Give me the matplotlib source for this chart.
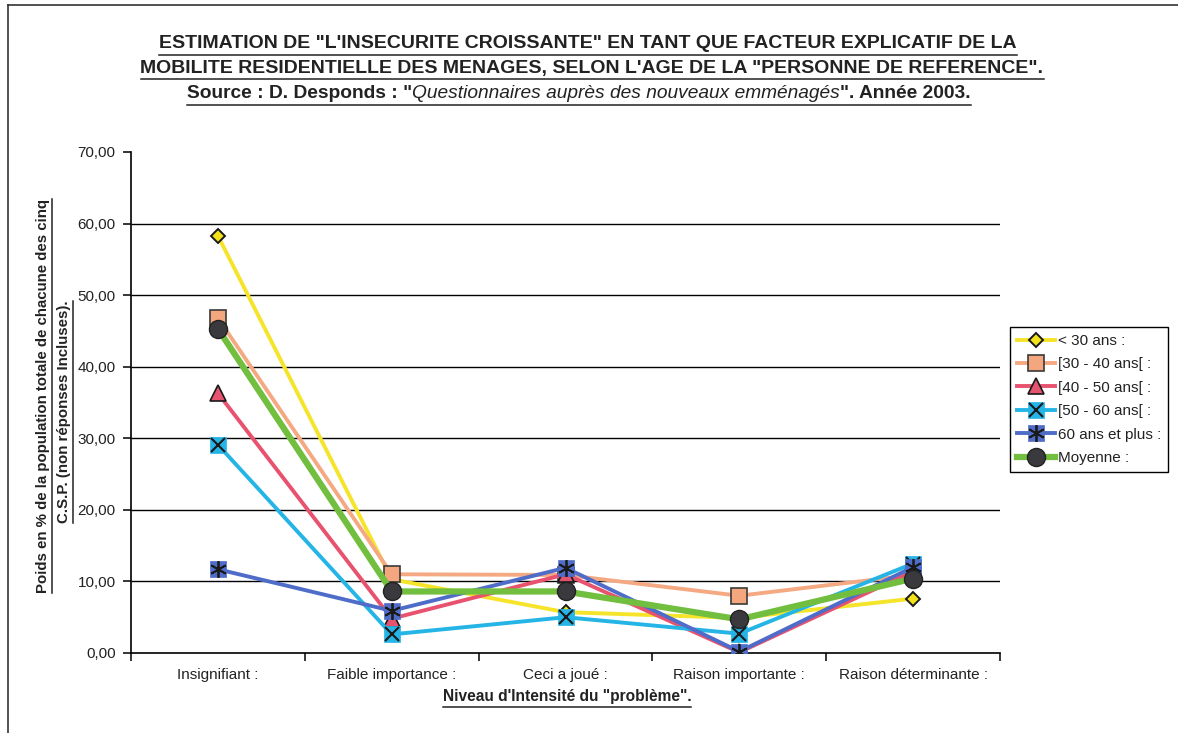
import matplotlib
matplotlib.use('Agg')
import matplotlib.pyplot as plt
from matplotlib.lines import Line2D

categories = ["Insignifiant :", "Faible importance :", "Ceci a joué :",
              "Raison importante :", "Raison déterminante :"]
series_names = ["< 30 ans :", "[30 - 40 ans[ :", "[40 - 50 ans[ :",
                "[50 - 60 ans[ :", "60 ans et plus :", "Moyenne :"]
v_lt30 = [58.3, 10.3, 5.7, 4.9, 7.6]
v_30_40 = [46.8, 11.0, 10.9, 8.0, 10.9]
v_40_50 = [36.3, 4.8, 11.0, 0.1, 11.4]
v_50_60 = [29.1, 2.6, 5.0, 2.7, 12.5]
v_60p = [11.7, 5.9, 11.9, 0.2, 12.0]
v_moy = [45.3, 8.6, 8.6, 4.7, 10.4]
yticks = [0, 10, 20, 30, 40, 50, 60, 70]
ytick_labels = ["0,00", "10,00", "20,00", "30,00", "40,00", "50,00", "60,00", "70,00"]

W, H = 1178, 733
fig = plt.figure(figsize=(W / 100, H / 100), dpi=100)
fig.patch.set_facecolor('white')
FONT = 'Liberation Sans'
plt.rcParams['font.family'] = [FONT, 'DejaVu Sans']
TXT = '#222222'

ax = fig.add_axes([131 / W, 1 - 653 / H, 869 / W, 501 / H])
x = list(range(len(categories)))

styles = [
    dict(color='#F5E42A', lw=2.8, marker='D', ms=7, mfc='#F2E21B', mec='#1a1a1a', mew=1.4),
    dict(color='#F5A983', lw=2.8, marker='s', ms=11, mfc='#F4A77E', mec='#3a3a3a', mew=1.2),
    dict(color='#E8526F', lw=2.8, marker='^', ms=11, mfc='#E5536F', mec='#1a1a1a', mew=1.2),
    dict(color='#25B4E6', lw=2.8, marker='s', ms=11, mfc='#25B4E6', mec='#25B4E6', mew=0.5),
    dict(color='#4E6CC8', lw=2.8, marker='s', ms=11, mfc='#4E6CC8', mec='#4E6CC8', mew=0.5),
    dict(color='#72BE3E', lw=4.5, marker='o', ms=13, mfc='#3A3A3E', mec='#222222', mew=1.0),
]
overlays = [None, None, None,
            dict(marker='x', ms=10, mec='#1a1a1a', mew=1.5),
            dict(marker=(6, 2, 0), ms=12, mec='#1a1a1a', mew=1.3),
            None]
data = [v_lt30, v_30_40, v_40_50, v_50_60, v_60p, v_moy]

handles = []
for i, (vals, st, ov) in enumerate(zip(data, styles, overlays)):
    ln, = ax.plot(x, vals, linestyle='-', zorder=3 + i, **st)
    if ov is not None:
        o, = ax.plot(x, vals, linestyle='none', zorder=3 + i, **ov)
        handles.append((ln, o))
    else:
        handles.append(ln)

ax.set_xlim(-0.5, len(categories) - 0.5)
ax.set_ylim(0, 70)
ax.hlines(yticks[1:-1], -0.5, len(categories) - 0.5, colors='black', lw=1.0, zorder=1)

for s in ['top', 'right']:
    ax.spines[s].set_visible(False)
for s in ['left', 'bottom']:
    ax.spines[s].set_color('black')
    ax.spines[s].set_linewidth(1.2)

ax.set_yticks(yticks)
ax.set_yticklabels(ytick_labels, fontsize=11, color=TXT)
ax.tick_params(axis='y', direction='out', length=6, width=1.1, pad=5)
ax.set_xticks(x)
ax.set_xticklabels(categories, fontsize=11, color=TXT)
ax.set_xticks([i - 0.5 for i in range(len(categories) + 1)], minor=True)
ax.tick_params(axis='x', which='major', length=0, pad=11)
ax.tick_params(axis='x', which='minor', direction='out', length=6, width=1.1)

leg = ax.legend(handles, series_names, loc='upper left',
                bbox_to_anchor=(1010 / W, 1 - 327 / H), bbox_transform=fig.transFigure,
                fancybox=False, framealpha=1, edgecolor='black', fontsize=11,
                handlelength=2.5, handletextpad=0.2, labelspacing=0.62,
                borderpad=0.45, borderaxespad=0)
leg.get_frame().set_linewidth(1.0)
for t in leg.get_texts():
    t.set_color(TXT)

# titles
t1 = fig.text(588 / W, 1 - 44 / H, "ESTIMATION DE \"L'INSECURITE CROISSANTE\" EN TANT QUE FACTEUR EXPLICATIF DE LA",
              ha='center', va='center', fontsize=14, fontweight='bold', color=TXT)
t2 = fig.text(592 / W, 1 - 68 / H, "MOBILITE RESIDENTIELLE DES MENAGES, SELON L'AGE DE LA \"PERSONNE DE REFERENCE\".",
              ha='center', va='center', fontsize=14, fontweight='bold', color=TXT)

# source line composed of bold / italic parts
parts = [("Source : D. Desponds : \"", dict(fontweight='bold')),
         ("Questionnaires auprès des nouveaux emménagés", dict(fontstyle='italic')),
         ("\". Année 2003.", dict(fontweight='bold'))]
r = fig.canvas.get_renderer()
src_texts = []
xpos = 0
for s, kw in parts:
    t = fig.text(xpos / W, 1 - 94 / H, s, ha='left', va='center', fontsize=13.8, color=TXT, **kw)
    bb = t.get_window_extent(r)
    src_texts.append(t)
    xpos += bb.width
cur = 579 - xpos / 2
for t in src_texts:
    bb = t.get_window_extent(r)
    t.set_x(cur / W)
    cur += bb.width

# axis labels
xl = fig.text(567 / W, 1 - 697 / H, "Niveau d'Intensité du \"problème\".", ha='center', va='center',
              fontsize=11.2, fontweight='bold', color=TXT)
yl1 = fig.text(43 / W, 1 - 396 / H, "Poids en % de la population totale de chacune des cinq",
               rotation=90, ha='center', va='center', fontsize=10.8, fontweight='bold', color=TXT)
yl2 = fig.text(64 / W, 1 - 412 / H, "C.S.P. (non réponses Incluses).",
               rotation=90, ha='center', va='center', fontsize=10.8, fontweight='bold', color=TXT)


def underline_h(texts, off=2, lw=1.1):
    bbs = [t.get_window_extent(r) for t in texts]
    x0 = min(b.x0 for b in bbs)
    x1 = max(b.x1 for b in bbs)
    y0 = min(b.y0 for b in bbs)
    fig.add_artist(Line2D([x0 / W, x1 / W], [(y0 - off) / H] * 2, transform=fig.transFigure,
                          color=TXT, lw=lw))


def underline_v(t, off=2, lw=1.1):
    b = t.get_window_extent(r)
    fig.add_artist(Line2D([(b.x1 + off) / W] * 2, [b.y0 / H, b.y1 / H], transform=fig.transFigure,
                          color=TXT, lw=lw))


underline_h([t1])
underline_h([t2])
underline_h(src_texts)
underline_h([xl])
underline_v(yl1)
underline_v(yl2)

# outer frame (left and top edges visible)
fig.add_artist(Line2D([8 / W, 8 / W], [0, 1 - 5 / H], transform=fig.transFigure, color='#333333', lw=1.2))
fig.add_artist(Line2D([8 / W, 1], [1 - 5 / H, 1 - 5 / H], transform=fig.transFigure, color='#333333', lw=1.2))

fig.savefig('out.png', dpi=100)
